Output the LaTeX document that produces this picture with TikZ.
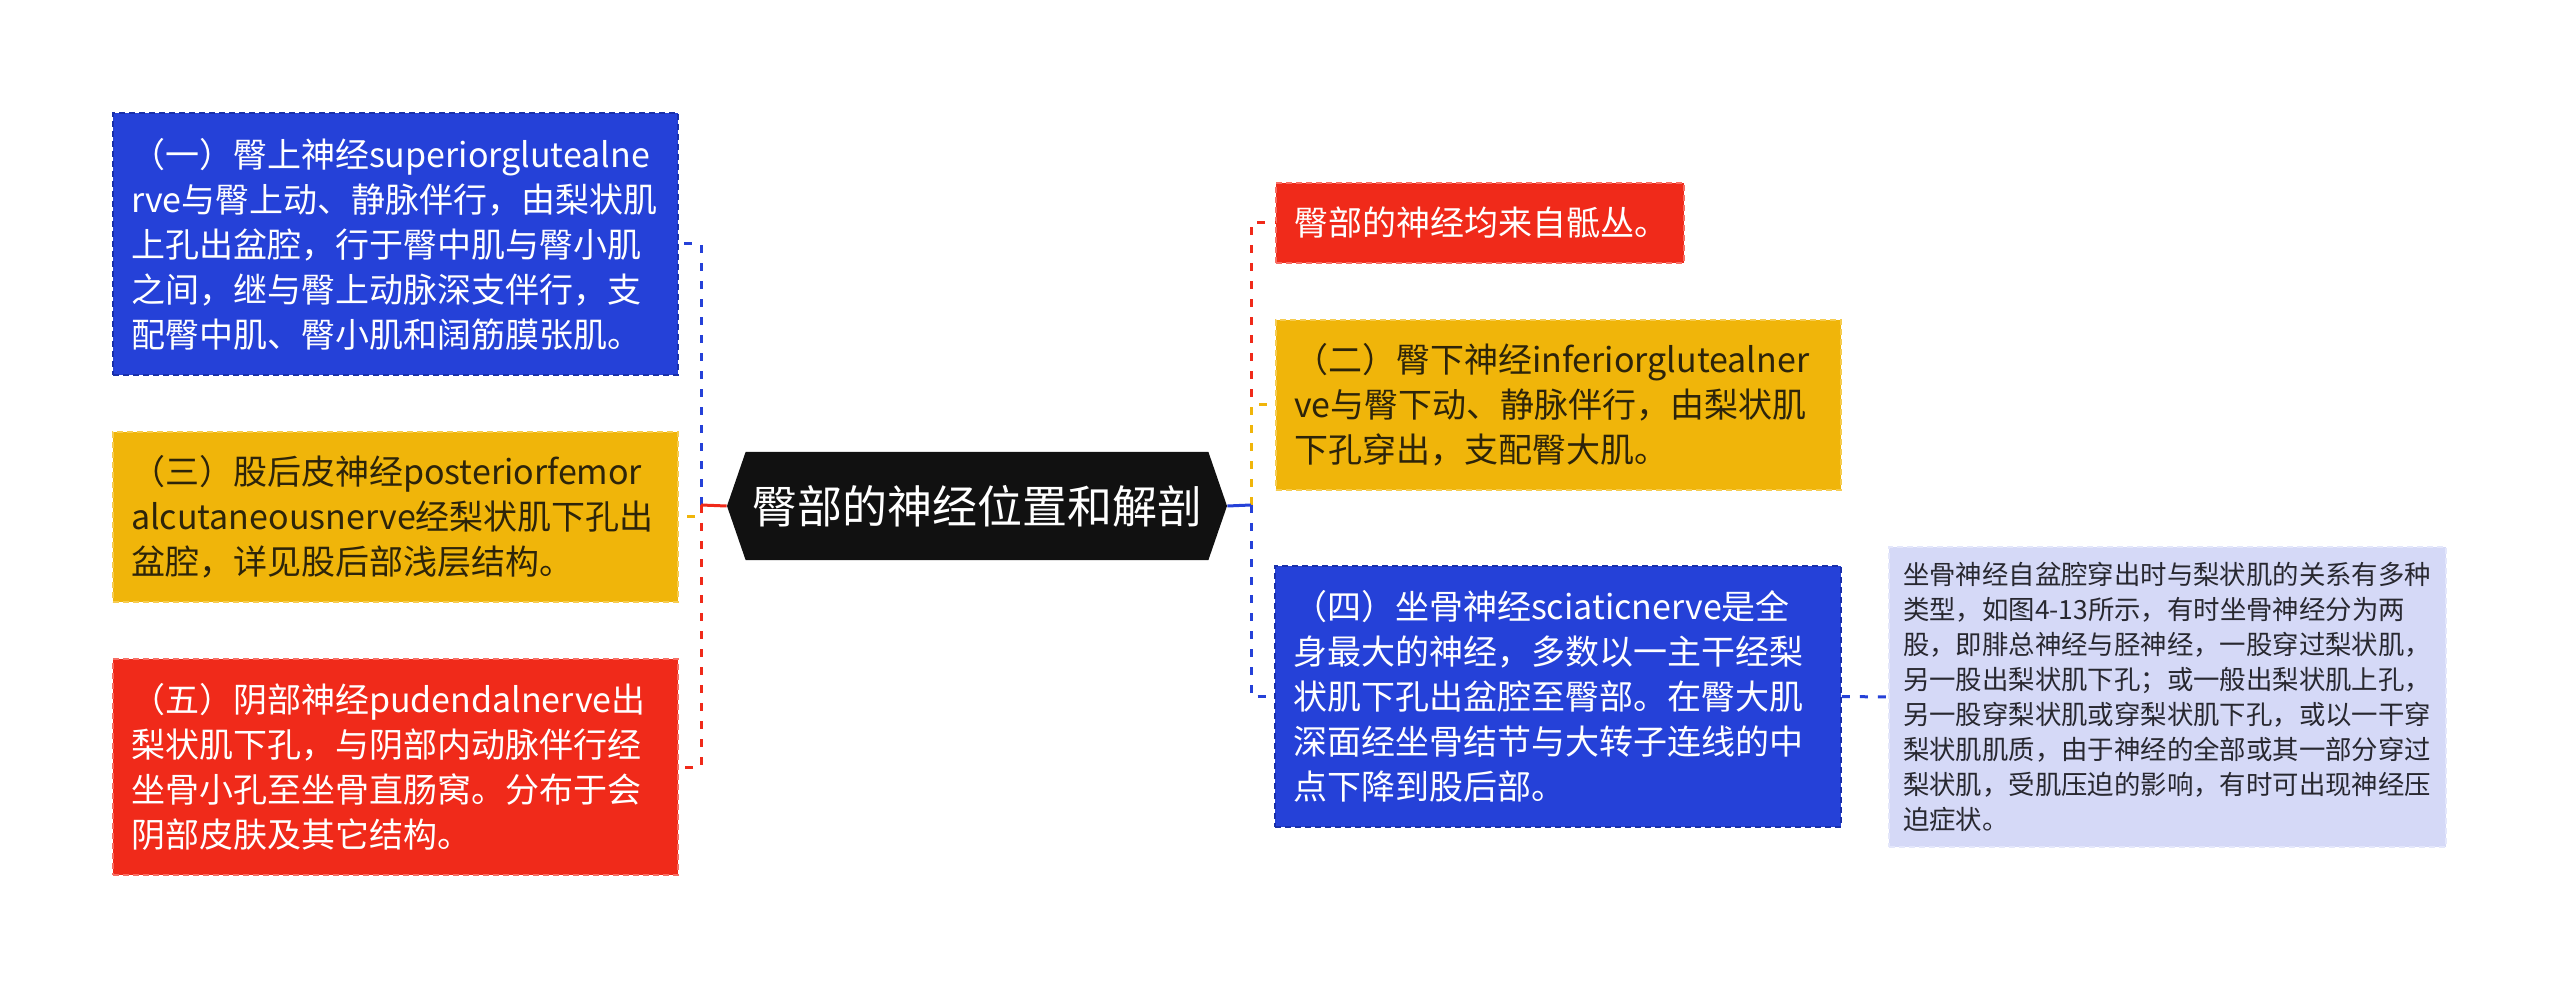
\documentclass[tikz,border=0pt]{standalone}
\usepackage{fontspec}
\setmainfont{Noto Sans CJK SC}
\usetikzlibrary{shapes.symbols}

\definecolor{nblue}{RGB}{37,65,216}
\definecolor{nblueline}{RGB}{26,48,170}
\definecolor{nred}{RGB}{240,42,26}
\definecolor{nredline}{RGB}{247,110,100}
\definecolor{nyellow}{RGB}{240,181,10}
\definecolor{nyellowline}{RGB}{246,204,80}
\definecolor{nlav}{RGB}{213,217,247}
\definecolor{nlavline}{RGB}{228,231,251}
\definecolor{nroot}{RGB}{17,17,17}
\definecolor{ndark}{RGB}{45,36,10}
\definecolor{ngrey}{RGB}{40,40,48}

\begin{document}
\begin{tikzpicture}[x=0.5pt,y=-0.5pt,
  leafbox/.style={rectangle,inner xsep=9pt,inner ysep=0pt,align=left,
    font=\fontsize{17pt}{22.5pt}\selectfont,line width=0.8pt,
    dash pattern=on 3pt off 2pt},
  bluebox/.style={leafbox,fill=nblue,draw=nblueline,text=white},
  redbox/.style={leafbox,fill=nred,draw=nredline,text=white},
  yellowbox/.style={leafbox,fill=nyellow,draw=nyellowline,text=ndark},
  notebox/.style={leafbox,inner xsep=7pt,fill=nlav,draw=nlavline,text=ngrey,
    font=\fontsize{13.2pt}{17.5pt}\selectfont},
  link/.style={line width=1.5pt,dash pattern=on 4pt off 5pt},
  stub/.style={line width=1.5pt}]

\useasboundingbox (0,0) rectangle (2560,989);

\node[signal,signal to=east and west,signal pointer angle=142,fill=nroot,
  text=white,font=\fontsize{22.5pt}{27pt}\selectfont,inner sep=0pt,
  minimum width=250pt,minimum height=54pt] (root) at (977,506)
  {臀部的神经位置和解剖};

\coordinate (lhub) at (701,505);
\coordinate (rhub) at (1251,505);

\node[bluebox,text width=264.5pt,minimum height=131pt] (one) at (395.5,244)
  {（一）臀上神经superiorglutealne\\
   rve与臀上动、静脉伴行，由梨状肌\\
   上孔出盆腔，行于臀中肌与臀小肌\\
   之间，继与臀上动脉深支伴行，支\\
   配臀中肌、臀小肌和阔筋膜张肌。};

\node[yellowbox,text width=264.5pt,minimum height=85pt] (three) at (395.5,517)
  {（三）股后皮神经posteriorfemor\\
   alcutaneousnerve经梨状肌下孔出\\
   盆腔，详见股后部浅层结构。};

\node[redbox,text width=264.5pt,minimum height=108pt] (five) at (395.5,767)
  {（五）阴部神经pudendalnerve出\\
   梨状肌下孔，与阴部内动脉伴行经\\
   坐骨小孔至坐骨直肠窝。分布于会\\
   阴部皮肤及其它结构。};

\node[redbox,text width=186pt,minimum height=40pt] (origin) at (1480,223)
  {臀部的神经均来自骶丛。};

\node[yellowbox,text width=264.5pt,minimum height=85pt] (two) at (1558.5,405)
  {（二）臀下神经inferiorglutealner\\
   ve与臀下动、静脉伴行，由梨状肌\\
   下孔穿出，支配臀大肌。};

\node[bluebox,text width=265pt,minimum height=130.5pt] (four) at (1558,696.5)
  {（四）坐骨神经sciaticnerve是全\\
   身最大的神经，多数以一主干经梨\\
   状肌下孔出盆腔至臀部。在臀大肌\\
   深面经坐骨结节与大转子连线的中\\
   点下降到股后部。};

\node[notebox,text width=264.5pt,minimum height=150pt] (note) at (2167.5,697)
  {坐骨神经自盆腔穿出时与梨状肌的关系有多种\\
   类型，如图4-13所示，有时坐骨神经分为两\\
   股，即腓总神经与胫神经，一股穿过梨状肌，\\
   另一股出梨状肌下孔；或一般出梨状肌上孔，\\
   另一股穿梨状肌或穿梨状肌下孔，或以一干穿\\
   梨状肌肌质，由于神经的全部或其一部分穿过\\
   梨状肌，受肌压迫的影响，有时可出现神经压\\
   迫症状。};

\draw[link,draw=nblue] (lhub) |- (one.east);
\draw[link,draw=nyellow] (lhub) |- (three.east);
\draw[link,draw=nred] (lhub) |- (five.east);
\draw[stub,draw=nred] (root.west) -- (lhub);

\draw[link,draw=nred] (rhub) |- (origin.west);
\draw[link,draw=nyellow] (rhub) |- (two.west);
\draw[link,draw=nblue] (rhub) |- (four.west);
\draw[stub,draw=nblue] (root.east) -- (rhub);

\draw[link,draw=nblue] (four.east) -- (note.west);

\end{tikzpicture}
\end{document}
